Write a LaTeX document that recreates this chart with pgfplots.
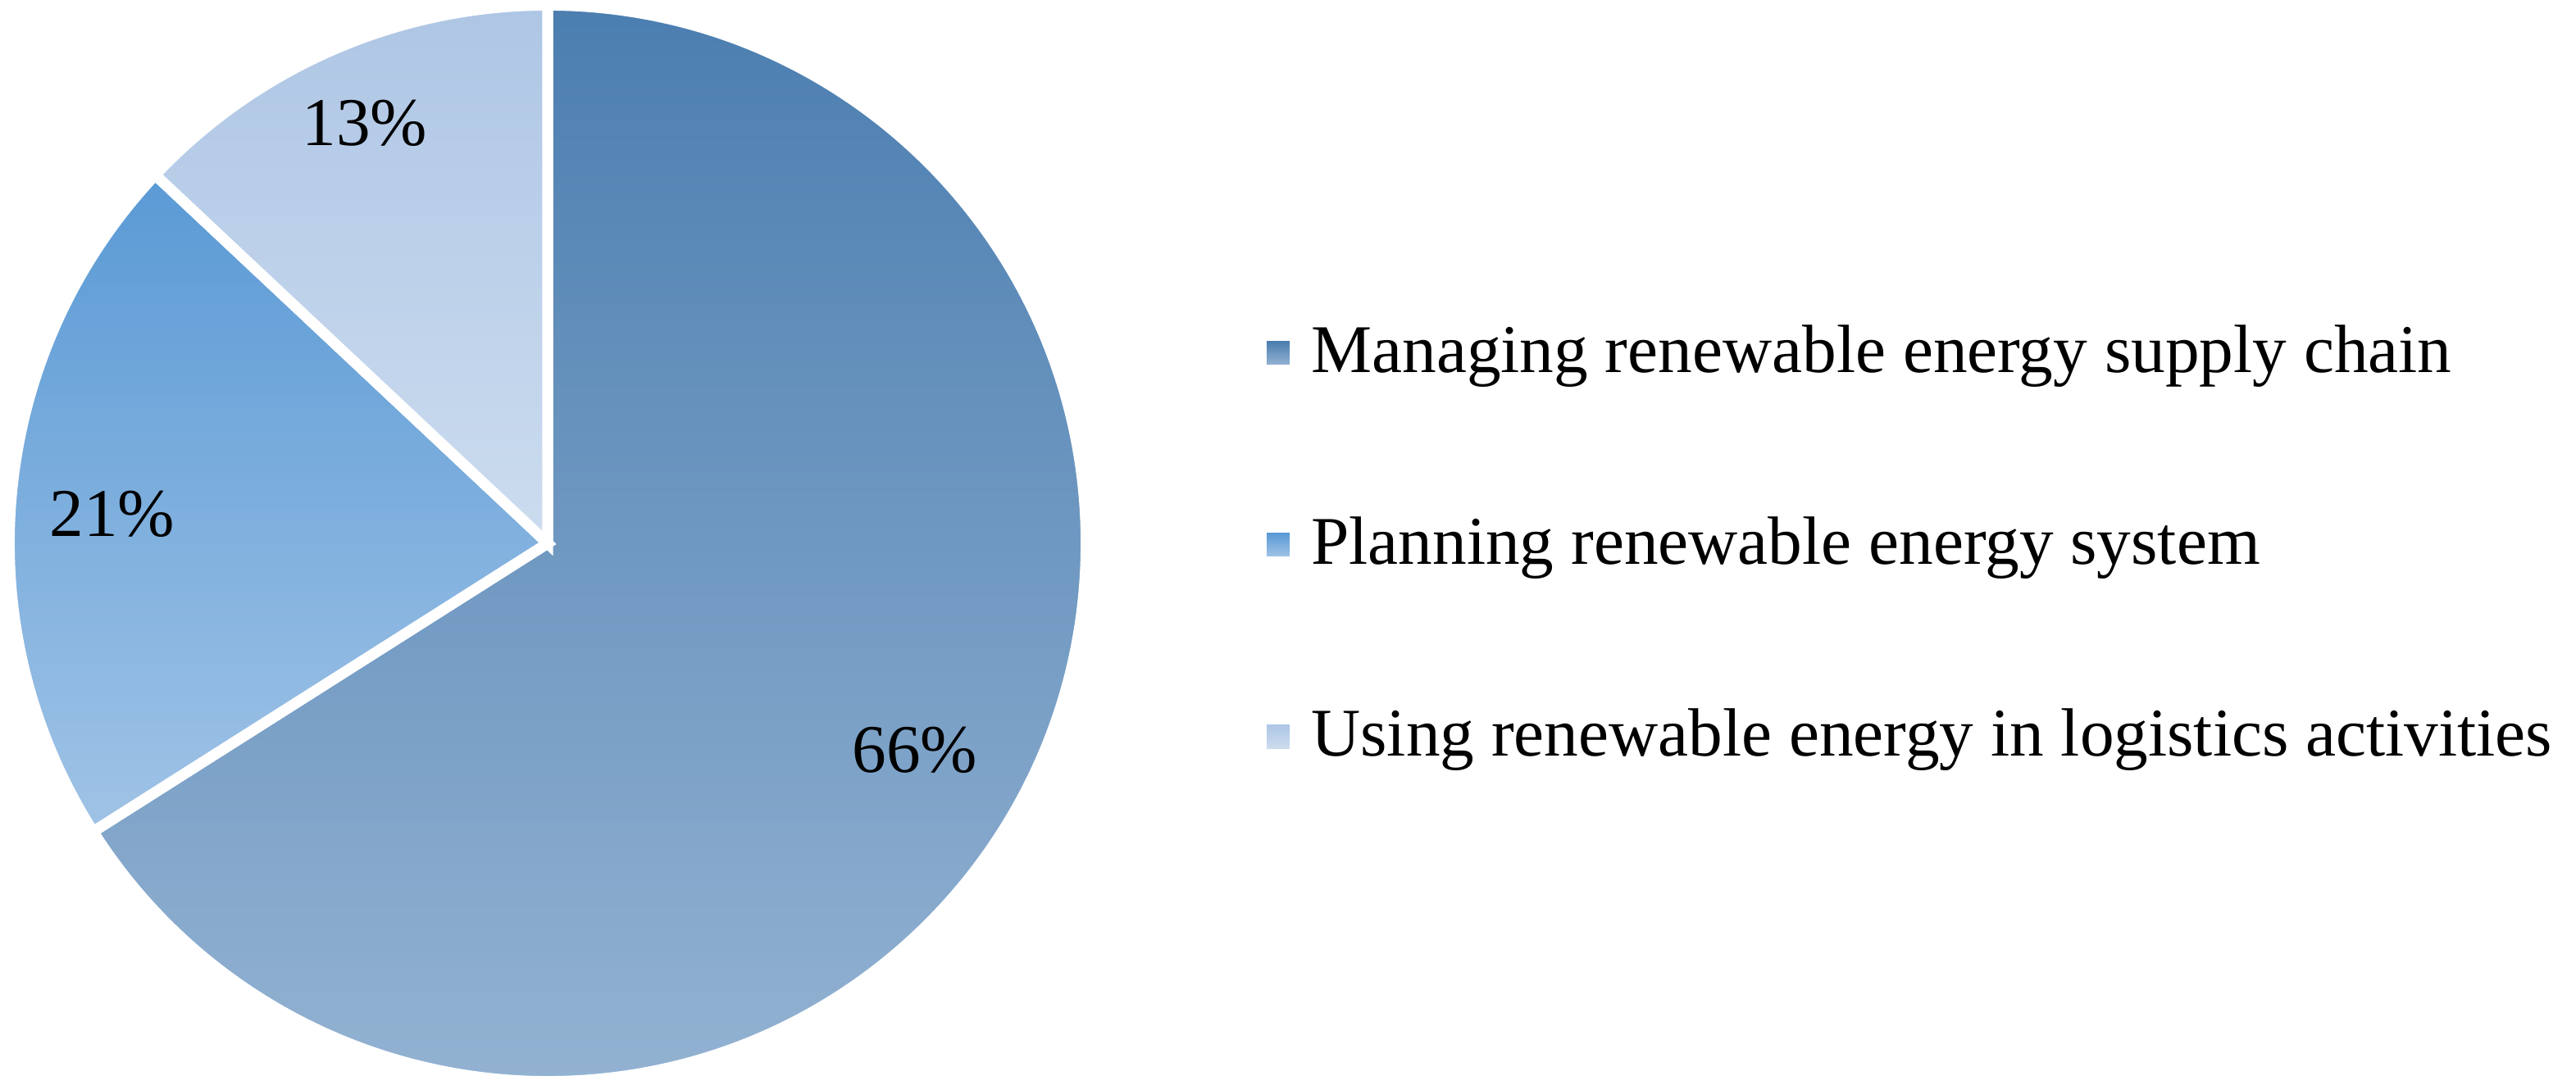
\documentclass[border=0pt]{standalone}
\usepackage{fontspec}
\setmainfont{Liberation Serif}
\usepackage{pgfplots}
\pgfplotsset{compat=1.18}

\definecolor{sA1}{HTML}{4B7EB0}
\definecolor{sA2}{HTML}{93B2D2}
\definecolor{sB1}{HTML}{5A9AD5}
\definecolor{sB2}{HTML}{A0C3E6}
\definecolor{sC1}{HTML}{AEC6E5}
\definecolor{sC2}{HTML}{CCDCEF}

% shares in percent
\def\pA{66}
\def\pB{21}
\def\pC{13}
\def\R{94.6pt}% pie radius

\begin{document}
\begin{tikzpicture}[font=\fontsize{12}{14}\selectfont]
\begin{axis}[
    name=ax,
    hide axis, scale only axis,
    x=0.14406pt, y=0.14406pt,
    xmin=0, xmax=3142, ymin=0, ymax=1324,
    y dir=reverse,
    clip=false,
]
% slices, clockwise from 12 o'clock
\shade[top color=sA1, bottom color=sA2, draw=white, line width=1.9pt]
  (axis cs:668,663) -- ++(90:\R)
  arc[start angle=90, end angle={90-3.6*\pA}, radius=\R] -- cycle;
\shade[top color=sB1, bottom color=sB2, draw=white, line width=1.9pt]
  (axis cs:668,663) -- ++({90-3.6*\pA}:\R)
  arc[start angle={90-3.6*\pA}, end angle={90-3.6*(\pA+\pB)}, radius=\R] -- cycle;
\shade[top color=sC1, bottom color=sC2, draw=white, line width=1.9pt]
  (axis cs:668,663) -- ++({90-3.6*(\pA+\pB)}:\R)
  arc[start angle={90-3.6*(\pA+\pB)}, end angle=-270, radius=\R] -- cycle;

% data labels
\node[anchor=base, inner sep=0pt] at (axis cs:1116,942) {\pA\%};
\node[anchor=base, inner sep=0pt] at (axis cs:137,655) {\pB\%};
\node[anchor=base, inner sep=0pt] at (axis cs:445,178) {\pC\%};

% legend
\shade[top color=sA1, bottom color=sA2] (axis cs:1545,417) rectangle (axis cs:1573,445);
\node[anchor=base west, inner sep=0pt] at (axis cs:1598,455) {Managing renewable energy supply chain};
\shade[top color=sB1, bottom color=sB2] (axis cs:1545,651) rectangle (axis cs:1573,679);
\node[anchor=base west, inner sep=0pt] at (axis cs:1598,689) {Planning renewable energy system};
\shade[top color=sC1, bottom color=sC2] (axis cs:1545,885) rectangle (axis cs:1573,913);
\node[anchor=base west, inner sep=0pt] at (axis cs:1598,923) {Using renewable energy in logistics activities};
\end{axis}
\pgfresetboundingbox
\path (ax.south west) rectangle (ax.north east);
\end{tikzpicture}
\end{document}
